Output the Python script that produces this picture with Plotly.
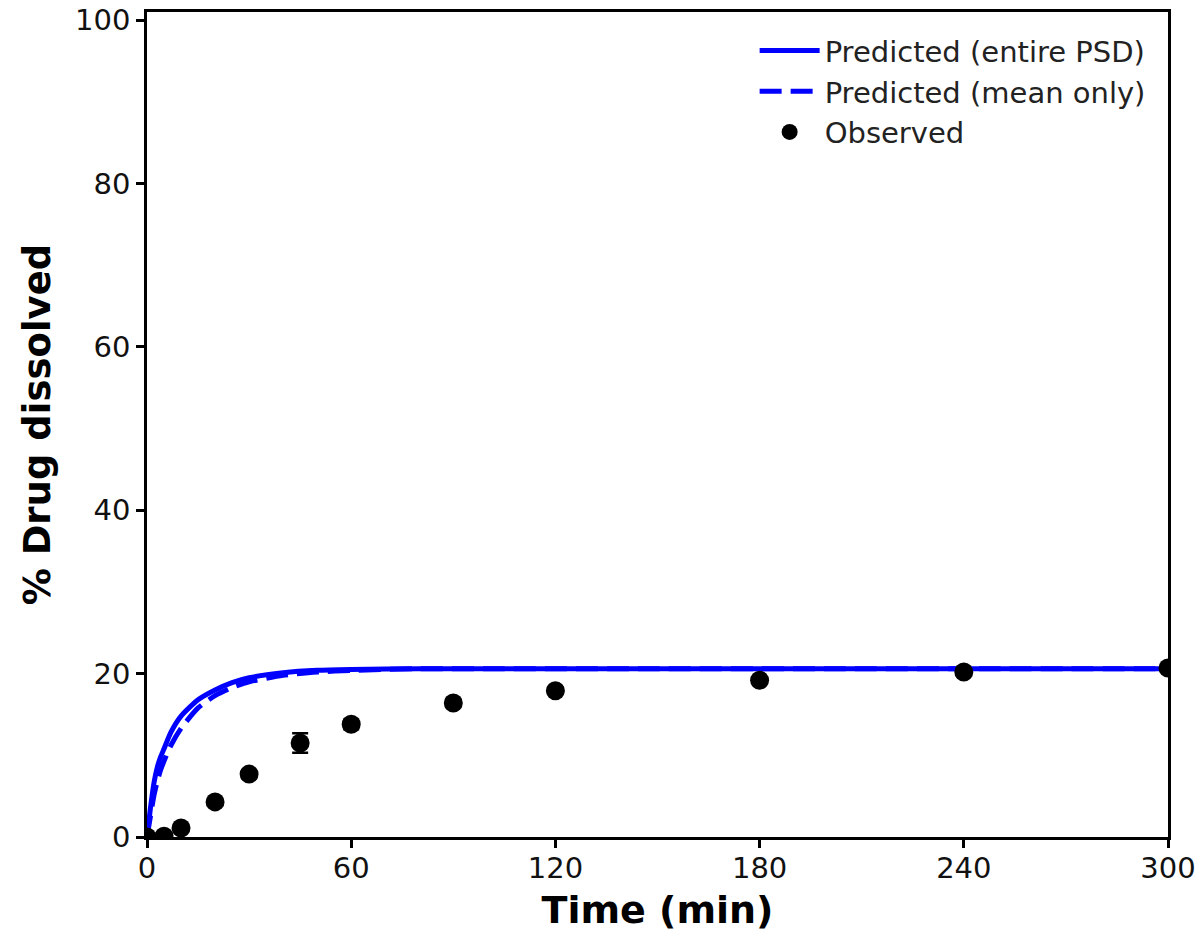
import plotly.graph_objects as go

# Predicted curves
t_pred = [0, 1, 2, 3, 4, 5, 7, 10, 15, 20, 25, 30, 40, 50, 60, 80, 100, 150, 200, 250, 300]
pred_entire = [0, 3.5, 6.5, 8.5, 9.8, 10.8, 12.8, 14.8, 16.8, 18.0, 18.9, 19.5, 20.1, 20.4, 20.5, 20.6, 20.6, 20.6, 20.6, 20.6, 20.6]
pred_mean = [0, 2.5, 5.0, 6.8, 8.2, 9.3, 11.2, 13.3, 15.8, 17.3, 18.3, 19.0, 19.8, 20.2, 20.4, 20.6, 20.6, 20.6, 20.6, 20.6, 20.6]

# Observed data
t_obs = [0, 5, 10, 20, 30, 45, 60, 90, 120, 180, 240, 300]
obs = [0, 0.1, 1.1, 4.3, 7.7, 11.5, 13.8, 16.4, 17.9, 19.2, 20.2, 20.7]
obs_err = [0.2, 0.2, 0.3, 0.3, 0.5, 1.2, 0.6, 0.5, 0.4, 0.3, 0.3, 0.3]

x_ticks = [0, 60, 120, 180, 240, 300]
y_ticks = [0, 20, 40, 60, 80, 100]

fig = go.Figure()
fig.add_trace(go.Scatter(x=t_pred, y=pred_entire, mode="lines", name="Predicted (entire PSD)",
                         line=dict(color="#0000ff", width=5, shape="spline", smoothing=0.6)))
fig.add_trace(go.Scatter(x=t_pred, y=pred_mean, mode="lines", name="Predicted (mean only)",
                         line=dict(color="#0000ff", width=5, dash="22px,9px", shape="spline", smoothing=0.6)))
fig.add_trace(go.Scatter(x=t_obs, y=obs, mode="markers", name="Observed",
                         marker=dict(color="black", size=19),
                         error_y=dict(type="data", array=obs_err, visible=True, color="black", thickness=2.5, width=8)))

axis_common = dict(showline=True, linecolor="black", linewidth=2.5, mirror=True,
                   ticks="outside", ticklen=8, tickwidth=2.5, tickcolor="black",
                   showgrid=False, zeroline=False, automargin=False,
                   tickfont=dict(size=29, color="#111"))

fig.update_layout(
    width=1196, height=932,
    margin=dict(l=147, r=28, t=12, b=95),
    paper_bgcolor="white", plot_bgcolor="white",
    font=dict(family="DejaVu Sans", color="black"),
    showlegend=True,
    legend=dict(x=0.983, y=0.984, xanchor="right", yanchor="top", bgcolor="rgba(0,0,0,0)",
                font=dict(size=29, color="#222"), itemwidth=60, tracegroupgap=0),
    xaxis=dict(range=[0, 300], tickvals=x_ticks, ticklabelstandoff=-5,
               title=dict(text="<b>Time (min)</b>", font=dict(size=38), standoff=14), **axis_common),
    yaxis=dict(range=[0, 101], tickvals=y_ticks,
               title=dict(text="<b>% Drug dissolved</b>", font=dict(size=37), standoff=14), **axis_common),
)

fig.write_html("out.html")
